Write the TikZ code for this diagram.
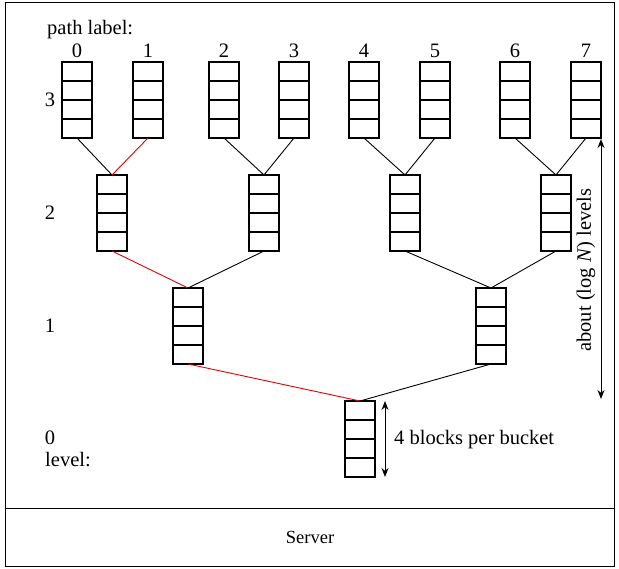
\documentclass[tikz,border=0pt]{standalone}
\usepackage{fontspec}
\setmainfont{Liberation Serif}
\usetikzlibrary{arrows.meta}
\begin{document}
\begin{tikzpicture}[x=1pt,y=-1pt,
  bucket/.style={draw, line width=1.2pt, minimum width=30pt, minimum height=76pt,
    inner sep=0pt, outer sep=0pt,
    path picture={
      \foreach \k in {1,2,3}
        \draw[line width=1.2pt]
          ([yshift=-\k*19pt]path picture bounding box.north west) --
          ([yshift=-\k*19pt]path picture bounding box.north east);
    }},
  link/.style={line width=0.9pt, black},
  hot/.style={line width=0.9pt, red!90!black},
  txt/.style={font=\fontsize{20.5}{24}\selectfont, inner sep=0pt},
  span/.style={line width=1pt, {Stealth[length=9pt,width=7pt]}-{Stealth[length=9pt,width=7pt]}},
  frame/.style={draw, line width=1.2pt}
]
\useasboundingbox (0,0) rectangle (619,569);

% outer frames: tree area and server bar
\node[frame, minimum width=609pt, minimum height=506pt, inner sep=0pt, anchor=north west] (tree) at (5,2) {};
\node[frame, minimum width=609pt, minimum height=58pt, inner sep=0pt, anchor=north west] (server) at (5,508) {};
\node[txt, font=\fontsize{18.5}{21}\selectfont] at (server.center) {Server};

% level 3 buckets (leaves) with their path labels
\foreach \i/\x in {0/77,1/148,2/224,3/294,4/364,5/435,6/515,7/586} {
  \node[bucket] (l3-\i) at (\x,100) {};
  \node[txt, anchor=base] (p\i) at (\x,57.5) {\i};
}
% level 2 buckets
\foreach \i/\x in {0/112,1/264,2/405,3/556}
  \node[bucket] (l2-\i) at (\x,213) {};
% level 1 buckets
\foreach \i/\x in {0/188,1/491}
  \node[bucket] (l1-\i) at (\x,326) {};
% root bucket
\node[bucket] (l0) at (360,439) {};

% tree edges (the path to leaf 1 in red)
\draw[link] (l3-0.south) -- (l2-0.north);
\draw[hot]  (l3-1.south) -- (l2-0.north);
\draw[link] (l3-2.south) -- (l2-1.north);
\draw[link] (l3-3.south) -- (l2-1.north);
\draw[link] (l3-4.south) -- (l2-2.north);
\draw[link] (l3-5.south) -- (l2-2.north);
\draw[link] (l3-6.south) -- (l2-3.north);
\draw[link] (l3-7.south) -- (l2-3.north);
\draw[hot]  (l2-0.south) -- (l1-0.north);
\draw[link] (l2-1.south) -- (l1-0.north);
\draw[link] (l2-2.south) -- (l1-1.north);
\draw[link] (l2-3.south) -- (l1-1.north);
\draw[hot]  (l1-0.south) -- (l0.north);
\draw[link] (l1-1.south) -- (l0.north);

% labels
\node[txt, anchor=base west] (pl) at (47,35) {path label:};
\node[txt] (lv3) at (50,100) {3};
\node[txt] (lv2) at (50,213) {2};
\node[txt] (lv1) at (50,326) {1};
\node[txt] (lv0) at (50,438) {0};
\node[txt, anchor=base west] (lvl) at (45,467) {level:};

% bucket size marker
\coordinate (bt) at (385,401);
\coordinate (bb) at (385,477);
\draw[span] (bt) -- (bb);
\node[txt, anchor=west] (bpb) at (394,440) {4 blocks per bucket};

% height marker
\coordinate (ht) at (601,139);
\coordinate (hb) at (601,399);
\draw[span] (ht) -- (hb);
\node[txt, rotate=90] (hlab) at (586,270) {about (log \textit{N}) levels};
\end{tikzpicture}
\end{document}
